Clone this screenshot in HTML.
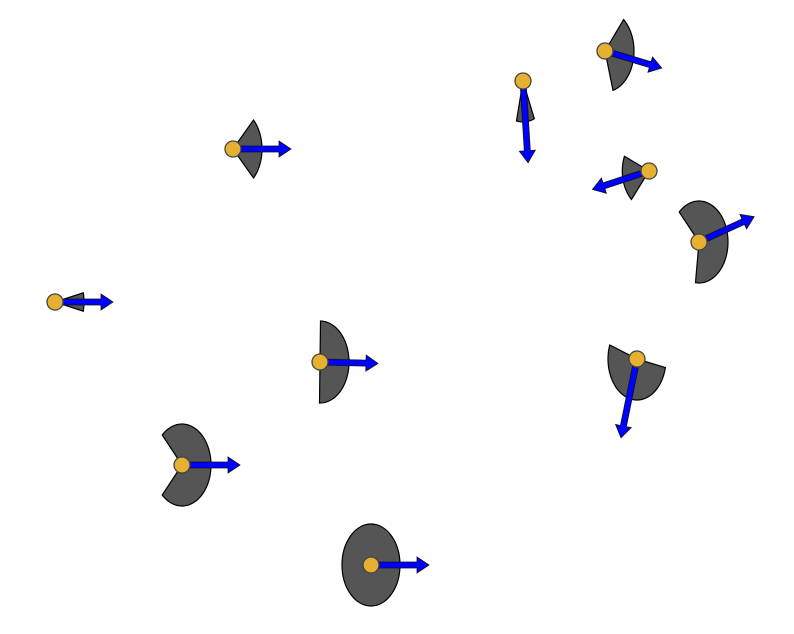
<!DOCTYPE html>
<html><head><meta charset="utf-8"><style>html,body{margin:0;padding:0;background:#fff}svg{display:block}</style></head>
<body>
<svg id="chart" width="794" height="634" viewBox="0 0 794 634"></svg>
<script>
const xs=[232,54,319,181,370,522,604,648,698,636];
const ys=[148,301,361,464,564,80,50,170,241,358];
const headings=[0,0,1,0,0,85,12,167,-18,106];
const halfAngles=[45,13,90,133,180,18,62,36,115,94];
const scales=[1,1,1,1,1,1,1,0.92,1,1];
const RX=29, RY=41;
function xScale(v){return v+1;}
function yScale(v){return v+1;}
const NS="http://www.w3.org/2000/svg";
const svg=document.getElementById('chart');
function mk(t,a){const e=document.createElementNS(NS,t);for(const k in a)e.setAttribute(k,a[k]);return e;}
const gW=mk('g',{});


const gA=mk('g',{});


const gP=mk('g',{});


svg.appendChild(gW);svg.appendChild(gA);svg.appendChild(gP);
for(let i=0;i<xs.length;i++){
  const cx=xScale(xs[i]),cy=yScale(ys[i]);
  const h=headings[i],ha=halfAngles[i],s=scales[i];
  const rx=RX*s,ry=RY*s;
  let d;
  if(ha>=180){
    d=`M${cx+rx},${cy} A${rx},${ry} 0 1 1 ${cx-rx},${cy} A${rx},${ry} 0 1 1 ${cx+rx},${cy}Z`;
  } else {
    let pts=[];
    for(let a=h-ha;a<=h+ha+0.001;a+=2){const r=a*Math.PI/180;pts.push((cx+rx*Math.cos(r)).toFixed(2)+','+(cy+ry*Math.sin(r)).toFixed(2));}
    const r2=(h+ha)*Math.PI/180;pts.push((cx+rx*Math.cos(r2)).toFixed(2)+','+(cy+ry*Math.sin(r2)).toFixed(2));
    d=`M${cx},${cy} L`+pts.join(' L')+'Z';
  }
  const w=mk('path',{d:d,fill:'#555555',stroke:'#000','stroke-width':1.2});
  
  
  gW.appendChild(w);
  const hr=h*Math.PI/180;
  const ex=cx+2*RX*Math.cos(hr), ey=cy+2*RY*Math.sin(hr);
  const L=Math.hypot(ex-cx,ey-cy);
  const ang=Math.atan2(ey-cy,ex-cx)*180/Math.PI;
  const sw=3,hw=8,hl=12;
  const poly=`0,${-sw} ${L-hl},${-sw} ${L-hl},${-hw} ${L},0 ${L-hl},${hw} ${L-hl},${sw} 0,${sw}`;
  const ar=mk('polygon',{points:poly,fill:'#0000ff',stroke:'#111','stroke-width':0.8,transform:`translate(${cx},${cy}) rotate(${ang})`});
  
  
  gA.appendChild(ar);
  const c=mk('circle',{cx:cx,cy:cy,r:8,fill:'#e6b030',stroke:'#444','stroke-width':1.3});
  
  
  gP.appendChild(c);
}
</script>
</body></html>
